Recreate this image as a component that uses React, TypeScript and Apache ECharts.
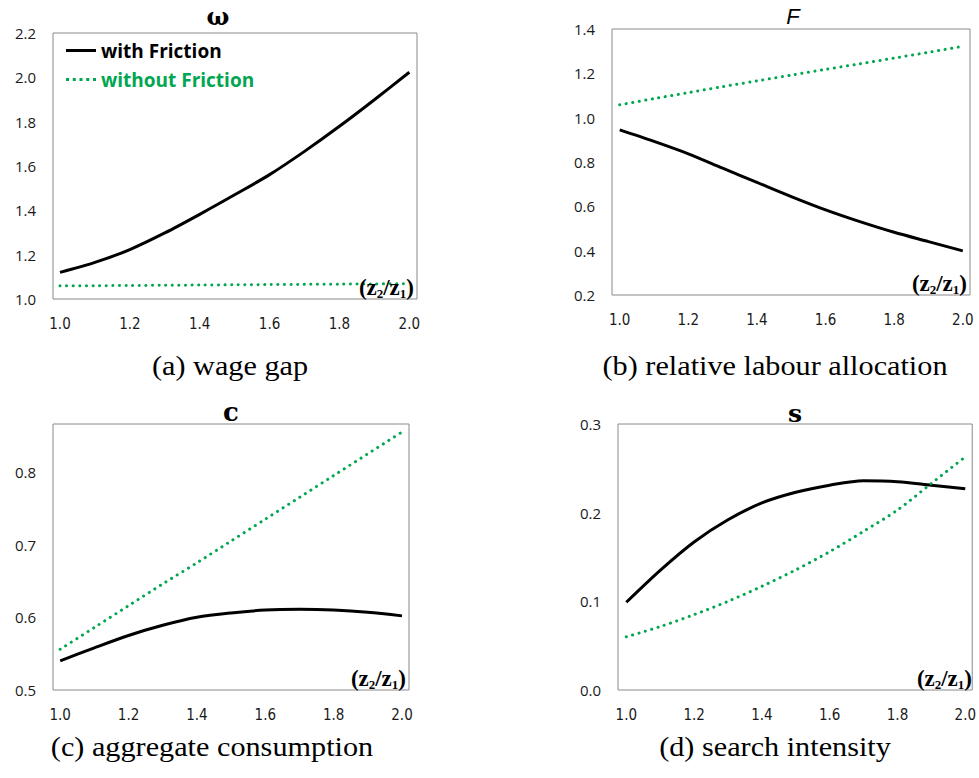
import React, { useEffect, useRef } from "react";
import * as echarts from "echarts";

const ratios = [1.0, 1.1, 1.2, 1.3, 1.4, 1.5, 1.6, 1.7, 1.8, 1.9, 2.0];
const xTicks = [1.0, 1.2, 1.4, 1.6, 1.8, 2.0];

const wageWith = [1.12, 1.165, 1.223, 1.298, 1.382, 1.47, 1.561, 1.666, 1.779, 1.899, 2.023];
const wageWithout = [1.06, 1.06, 1.061, 1.062, 1.063, 1.064, 1.065, 1.066, 1.067, 1.068, 1.069];

const labourWith = [0.945, 0.893, 0.837, 0.772, 0.708, 0.644, 0.584, 0.531, 0.483, 0.441, 0.399];
const labourWithout = [1.058, 1.086, 1.113, 1.14, 1.166, 1.192, 1.218, 1.243, 1.269, 1.295, 1.322];

const consWith = [0.54, 0.558, 0.575, 0.589, 0.6, 0.606, 0.61, 0.611, 0.61, 0.607, 0.602];
const consWithout = [0.556, 0.586, 0.616, 0.646, 0.675, 0.705, 0.735, 0.765, 0.795, 0.825, 0.855];

const searchWith = [0.099, 0.135, 0.167, 0.192, 0.211, 0.223, 0.231, 0.236, 0.235, 0.231, 0.227];
const searchWithout = [0.06, 0.0715, 0.085, 0.1, 0.117, 0.1355, 0.156, 0.179, 0.203, 0.233, 0.263];

const yTicksA = [1.0, 1.2, 1.4, 1.6, 1.8, 2.0, 2.2];
const yTicksB = [0.2, 0.4, 0.6, 0.8, 1.0, 1.2, 1.4];
const yTicksC = [0.5, 0.6, 0.7, 0.8];
const yTicksD = [0.0, 0.1, 0.2, 0.3];

const titles = ["ω", "F", "c", "s"];
const captions = ["(a) wage gap", "(b) relative labour allocation", "(c) aggregate consumption", "(d) search intensity"];
const seriesNames = ["with Friction", "without Friction"];

const GREEN = "#00a651";

export default function App() {
  const ref = useRef<HTMLDivElement>(null);
  useEffect(() => {
    document.body.style.margin = "0";
    const chart = echarts.init(ref.current!, null, { renderer: "svg" });

    const grids = [
      { left: 53, top: 33, width: 364, height: 266 },
      { left: 612, top: 29, width: 358, height: 266 },
      { left: 53, top: 424, width: 356, height: 266 },
      { left: 618, top: 424, width: 357, height: 266 },
    ];
    const xRanges = [
      [0.98, 2.022],
      [0.9775, 2.021],
      [0.979, 2.0205],
      [0.9755, 2.0205],
    ];
    const yRanges = [
      [1.0, 2.2, yTicksA],
      [0.2, 1.4, yTicksB],
      [0.5, 0.866, yTicksC],
      [0.0, 0.3, yTicksD],
    ];
    const withData = [wageWith, labourWith, consWith, searchWith];
    const withoutData = [wageWithout, labourWithout, consWithout, searchWithout];

    const labelFont = "'Open Sans', 'Noto Sans', sans-serif";
    const narrowFont = "'Liberation Sans Narrow', 'DejaVu Sans Condensed', 'Open Sans', sans-serif";

    const xAxis = grids.map((_, i) => ({
      type: "value",
      gridIndex: i,
      min: xRanges[i][0],
      max: xRanges[i][1],
      axisLine: { show: false },
      axisTick: { show: false },
      splitLine: { show: false },
      axisLabel: {
        customValues: xTicks,
        formatter: (v: number) => v.toFixed(1),
        margin: 17,
        fontSize: 15,
        color: "#1a1a1a",
        fontFamily: narrowFont,
      },
    }));
    const yAxis = grids.map((_, i) => ({
      type: "value",
      gridIndex: i,
      min: yRanges[i][0],
      max: yRanges[i][1],
      axisLine: { show: false },
      axisTick: { show: false },
      splitLine: { show: false },
      axisLabel: {
        customValues: yRanges[i][2],
        formatter: (v: number) => v.toFixed(1),
        margin: 17,
        fontSize: 15,
        color: "#1a1a1a",
        fontFamily: labelFont,
      },
    }));

    const series: any[] = [];
    grids.forEach((_, i) => {
      series.push({
        type: "line",
        name: seriesNames[0],
        xAxisIndex: i,
        yAxisIndex: i,
        data: ratios.map((x, k) => [x, withData[i][k]]),
        showSymbol: false,
        symbol: "none",
        smooth: 0.3,
        lineStyle: { color: "#000", width: 3 },
        itemStyle: { color: "#000" },
      });
      series.push({
        type: "line",
        name: seriesNames[1],
        xAxisIndex: i,
        yAxisIndex: i,
        data: ratios.map((x, k) => [x, withoutData[i][k]]),
        showSymbol: false,
        symbol: "none",
        smooth: 0.3,
        lineStyle: { color: GREEN, width: 3, type: [0.1, 6.5], cap: "round" },
        itemStyle: { color: GREEN },
      });
    });

    const titlePos = [
      [218, 16],
      [793, 16],
      [231, 412],
      [795, 413],
    ];
    const titleStyles = [
      { fontFamily: "'DejaVu Serif', serif", fontWeight: "bold", fontSize: 24 },
      { fontFamily: "'Liberation Sans', sans-serif", fontStyle: "italic", fontSize: 22 },
      { fontFamily: "'DejaVu Serif', serif", fontWeight: "bold", fontSize: 26 },
      { fontFamily: "'DejaVu Serif', serif", fontWeight: "bold", fontSize: 25 },
    ];
    const captionPos = [
      [230, 366],
      [775, 366],
      [212, 747],
      [775, 747],
    ];

    const graphic: any[] = [];
    grids.forEach((g, i) => {
      graphic.push({
        type: "text",
        x: titlePos[i][0],
        y: titlePos[i][1],
        style: {
          text: titles[i],
          ...titleStyles[i],
          fill: "#000",
          align: "center",
          verticalAlign: "middle",
        },
      });
      graphic.push({
        type: "text",
        x: captionPos[i][0],
        y: captionPos[i][1],
        scaleX: 1.12,
        style: {
          text: captions[i],
          fontFamily: "'Liberation Serif', serif",
          fontSize: 27,
          fill: "#000",
          align: "center",
          verticalAlign: "middle",
        },
      });
      graphic.push({
        type: "text",
        x: g.left + g.width - 3,
        y: g.top + g.height - 12,
        z: 100,
        style: {
          text: "{m|(z}{s|2}{m|/z}{s|1}{m|)}",
          align: "right",
          verticalAlign: "middle",
          rich: {
            m: {
              fontFamily: "'Liberation Serif', serif",
              fontWeight: "bold",
              fontSize: 23,
              lineHeight: 26,
              fill: "#000",
              color: "#000",
              verticalAlign: "middle",
            },
            s: {
              fontFamily: "'Liberation Serif', serif",
              fontWeight: "bold",
              fontSize: 13,
              lineHeight: 13,
              padding: [11, 0, 0, 0],
              fill: "#000",
              color: "#000",
              verticalAlign: "bottom",
            },
          },
        },
      });
    });

    const solidIcon = "path://M0,0h30v3h-30z";
    const dotIcon =
      "path://M0,0h3v3h-3z M6.75,0h3v3h-3z M13.5,0h3v3h-3z M20.25,0h3v3h-3z M27,0h3v3h-3z";

    chart.setOption({
      animation: false,
      backgroundColor: "#fff",
      grid: grids.map((g) => ({ ...g, show: true, borderColor: "#8a8a8a", borderWidth: 1, backgroundColor: "transparent" })),
      xAxis,
      yAxis,
      legend: {
        orient: "vertical",
        left: 61,
        top: 36,
        itemWidth: 30,
        itemHeight: 14,
        itemGap: 10,
        selectedMode: false,
        textStyle: { fontFamily: labelFont, fontWeight: "bold", fontSize: 19 },
        data: [
          { name: seriesNames[0], icon: solidIcon, textStyle: { color: "#000" } },
          { name: seriesNames[1], icon: dotIcon, textStyle: { color: GREEN } },
        ],
      },
      series,
      graphic,
    });
    return () => chart.dispose();
  }, []);
  return <div ref={ref} style={{ width: 979, height: 778 }} />;
}
